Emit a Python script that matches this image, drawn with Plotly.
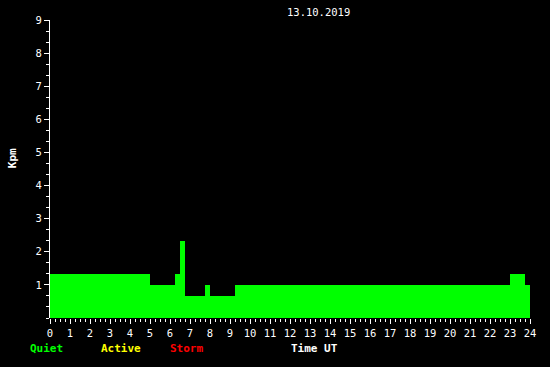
import plotly.graph_objects as go

# Kpm segments (hours UT) and values
seg_start = [0.0, 5.0, 6.25, 6.5, 6.75, 7.75, 8.0, 9.25, 23.0, 23.75]
seg_end = [5.0, 6.25, 6.5, 6.75, 7.75, 8.0, 9.25, 23.0, 23.75, 24.0]
kpm = [1.33, 1.0, 1.33, 2.33, 0.67, 1.0, 0.67, 1.0, 1.33, 1.0]

x_ticks = list(range(0, 25))
y_ticks = list(range(1, 10))
date_label = "13.10.2019"


def kp_color(v):
    if v < 4:
        return "#00ff00"
    if v < 5:
        return "#ffff00"
    return "#ff0000"


centers = [(a + b) / 2 for a, b in zip(seg_start, seg_end)]
widths = [b - a for a, b in zip(seg_start, seg_end)]
colors = [kp_color(v) for v in kpm]

font_main = "DejaVu Sans Mono"

fig = go.Figure()
fig.add_trace(go.Bar(
    x=centers, y=kpm, width=widths,
    marker=dict(color=colors, line=dict(width=0)),
    hoverinfo="skip",
))

fig.update_layout(
    width=550, height=367,
    margin=dict(l=50, r=20, t=20, b=49),
    paper_bgcolor="black", plot_bgcolor="black",
    showlegend=False,
    bargap=0,
    font=dict(family=font_main, size=10, color="white"),
)

fig.update_xaxes(
    range=[0, 24], tickvals=x_ticks, ticktext=[str(t) for t in x_ticks],
    ticks="outside", ticklen=5, tickwidth=1, tickcolor="white",
    minor=dict(dtick=0.25, tick0=0, ticks="outside", ticklen=3, tickwidth=1, tickcolor="white"),
    showgrid=False, zeroline=False, showline=False,
    tickfont=dict(family=font_main, size=10.5, color="white"),
    fixedrange=True,
)
fig.update_yaxes(
    range=[0, 9], tickvals=y_ticks, ticktext=[str(t) for t in y_ticks],
    ticks="outside", ticklen=5, tickwidth=1, tickcolor="white",
    minor=dict(dtick=1/3, tick0=0, ticks="outside", ticklen=3, tickwidth=1, tickcolor="white"),
    showgrid=False, zeroline=False, showline=True, linecolor="white", linewidth=1,
    tickfont=dict(family=font_main, size=10.5, color="white"),
    fixedrange=True,
)

ann = [
    dict(text=date_label, x=0.5604, y=1.027, color="white", bold=False, angle=0, size=10.5),
    dict(text="Kpm", x=-0.078, y=0.535, color="white", bold=True, angle=-90, size=11),
    dict(text="Quiet", x=-0.007, y=-0.104, color="#00ff00", bold=True, angle=0, size=11),
    dict(text="Active", x=0.147, y=-0.104, color="#ffff00", bold=True, angle=0, size=11),
    dict(text="Storm", x=0.285, y=-0.104, color="#ff0000", bold=True, angle=0, size=11),
    dict(text="Time UT", x=0.550, y=-0.104, color="white", bold=True, angle=0, size=11),
]
for a in ann:
    txt = f"<b>{a['text']}</b>" if a["bold"] else a["text"]
    fig.add_annotation(
        text=txt, x=a["x"], y=a["y"], xref="paper", yref="paper",
        xanchor="center", yanchor="middle", showarrow=False, textangle=a["angle"],
        font=dict(family=font_main, size=a["size"], color=a["color"]),
    )

fig.write_html("out.html")
